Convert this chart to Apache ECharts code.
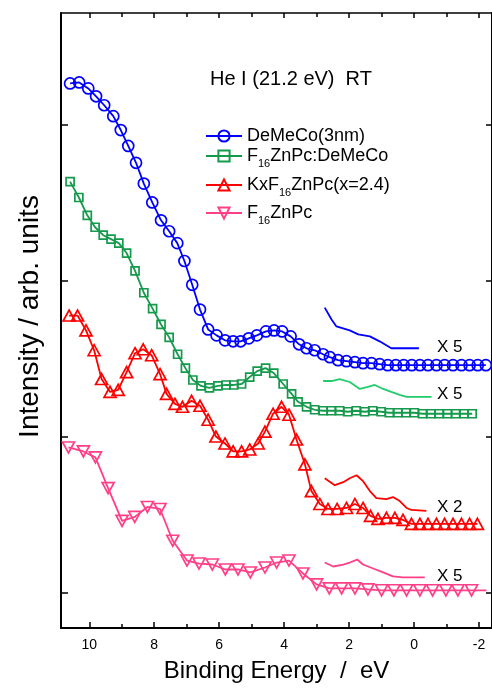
<!DOCTYPE html>
<html>
<head>
<meta charset="utf-8">
<script src="https://cdn.jsdelivr.net/npm/echarts@6/dist/echarts.min.js"></script>
<style>
  html, body { margin: 0; padding: 0; background: #fff; }
  #main { width: 492px; height: 688px; }
</style>
</head>
<body>
<div id="main"></div>
<script>
// datos: energia de enlace (eV) e intensidad (u. arb.)
var energiaDeMeCo = [10.59, 10.31, 10.03, 9.79, 9.54, 9.26, 9.03, 8.80, 8.56, 8.32, 8.06, 7.79, 7.54, 7.29, 7.07, 6.83, 6.59, 6.34, 6.08, 5.82, 5.57, 5.34, 5.09, 4.84, 4.56, 4.31, 4.06, 3.80, 3.54, 3.31, 3.06, 2.80, 2.59, 2.34, 2.08, 1.82, 1.57, 1.31, 1.06, 0.81, 0.56, 0.32, 0.07, -0.18, -0.43, -0.69, -0.94, -1.20, -1.46, -1.71, -1.96, -2.21];
var intensidadDeMeCo = [549, 550, 544, 536, 527, 516, 502, 486, 469, 448, 429, 411, 400, 388, 370, 346, 321, 301, 295, 290, 289, 289, 292, 295, 299, 300, 299, 294, 286, 282, 280, 276, 273, 270, 269, 268, 267, 267, 266, 265, 265, 265, 265, 265, 265, 265, 265, 265, 265, 265, 265, 265];

var energiaMezcla = [10.59, 10.32, 10.06, 9.82, 9.57, 9.33, 9.09, 8.85, 8.59, 8.32, 8.05, 7.79, 7.54, 7.28, 7.04, 6.81, 6.56, 6.30, 6.04, 5.79, 5.55, 5.31, 5.06, 4.83, 4.57, 4.32, 4.03, 3.77, 3.57, 3.31, 3.06, 2.80, 2.55, 2.29, 2.04, 1.78, 1.52, 1.27, 1.01, 0.76, 0.50, 0.25, -0.01, -0.26, -0.52, -0.77, -1.03, -1.28, -1.54, -1.79];
var intensidadMezcla = [450, 434, 416, 404, 396, 392, 388, 378, 360, 338, 322, 306, 293, 276, 262, 250, 244, 242, 244, 245, 245, 246, 253, 259, 262, 257, 246, 236, 228, 223, 220, 219, 219, 219, 218, 219, 218, 219, 218, 217, 217, 217, 217, 216, 216, 216, 216, 216, 216, 216];

var energiaPotasio = [10.62, 10.36, 10.10, 9.85, 9.62, 9.36, 9.11, 8.85, 8.59, 8.34, 8.08, 7.82, 7.62, 7.36, 7.13, 6.85, 6.59, 6.34, 6.10, 5.82, 5.57, 5.31, 5.06, 4.80, 4.59, 4.34, 4.08, 3.85, 3.62, 3.36, 3.16, 2.90, 2.65, 2.37, 2.08, 1.82, 1.57, 1.34, 1.11, 0.85, 0.59, 0.34, 0.08, -0.18, -0.43, -0.69, -0.94, -1.20, -1.46, -1.71, -1.95];
var intensidadPotasio = [315, 315, 300, 280, 251, 238, 240, 258, 277, 281, 275, 256, 236, 226, 223, 229, 224, 210, 193, 186, 178, 178, 180, 186, 198, 216, 223, 215, 190, 165, 138, 125, 120, 120, 121, 125, 121, 113, 110, 111, 111, 109, 105, 105, 105, 105, 105, 105, 105, 105, 105];

var energiaF16 = [10.64, 10.18, 9.81, 9.42, 8.99, 8.60, 8.21, 7.82, 7.43, 6.99, 6.62, 6.21, 5.81, 5.42, 5.04, 4.59, 4.23, 3.85, 3.42, 3.00, 2.61, 2.23, 1.82, 1.42, 1.00, 0.62, 0.23, -0.18, -0.57, -0.98, -1.35, -1.77, -2.23];
var intensidadF16 = [182, 178, 172, 141, 108, 112, 122, 120, 88, 68, 65, 64, 59, 59, 56, 61, 66, 68, 55, 44, 40, 40, 40, 39, 38, 38, 38, 38, 38, 38, 38, 38, 38];

// curvas ampliadas (X 5 / X 2) cerca del nivel de Fermi
var energiaDeMeCoX5 = [2.75, 2.54, 2.39, 1.98, 1.72, 1.36, 1.06, 0.70, -0.15];
var intensidadDeMeCoX5 = [323, 311, 304, 300, 296, 294, 289, 282, 282];
var energiaMezclaX5 = [2.80, 2.54, 2.29, 1.98, 1.67, 1.42, 1.21, 0.95, 0.70, 0.44, 0.23, -0.54];
var intensidadMezclaX5 = [249, 249, 251, 248, 241, 243, 245, 241, 238, 235, 233, 233];
var energiaPotasioX2 = [2.75, 2.44, 2.18, 1.98, 1.77, 1.57, 1.36, 1.16, 0.85, 0.65, 0.44, 0.23, 0.08, -0.38];
var intensidadPotasioX2 = [151, 144, 147, 151, 154, 148, 138, 131, 130, 132, 128, 121, 119, 118];
var energiaF16X5 = [2.75, 2.49, 2.18, 1.98, 1.75, 1.57, 1.26, 0.95, 0.65, 0.34, -0.33];
var intensidadF16X5 = [66, 62, 64, 66, 69, 64, 60, 56, 52, 51, 51];

// ticks
var ticksMayores = [10, 8, 6, 4, 2, 0, -2];
var ticksMenores = [9, 7, 5, 3, 1, -1];
var ticksY = [36, 193, 350, 507];

var nombres = ['DeMeCo(3nm)', 'F16ZnPc:DeMeCo', 'KxF16ZnPc(x=2.4)', 'F16ZnPc'];
var etiquetasRich = {
  'DeMeCo(3nm)': '{a|DeMeCo(3nm)}',
  'F16ZnPc:DeMeCo': '{a|F}{s|16}{a|ZnPc:DeMeCo}',
  'KxF16ZnPc(x=2.4)': '{a|KxF}{s|16}{a|ZnPc(x=2.4)}',
  'F16ZnPc': '{a|F}{s|16}{a|ZnPc}'
};

var fuente = "'Liberation Sans', Arial, sans-serif";

function juntar(xs, ys) {
  return xs.map(function (x, i) { return [x, ys[i]]; });
}

function serieMarcada(nombre, xs, ys, color, simbolo, tam, rot) {
  return {
    name: nombre,
    type: 'line',
    data: juntar(xs, ys),
    symbol: simbolo,
    symbolSize: tam,
    symbolRotate: rot || 0,
    showAllSymbol: true,
    lineStyle: { color: color, width: 1.8 },
    itemStyle: { color: 'rgba(0,0,0,0)', borderColor: color, borderWidth: 1.7 }
  };
}

function serieAmpliada(nombre, xs, ys, color) {
  return {
    name: nombre,
    type: 'line',
    data: juntar(xs, ys),
    showSymbol: false,
    lineStyle: { color: color, width: 1.8 },
    itemStyle: { color: color }
  };
}

function ejeX(pos, ticks, largo, conLinea, conLabels) {
  var eje = {
    type: 'value',
    position: pos,
    min: -2.4,
    max: 10.87,
    inverse: true,
    splitLine: { show: false },
    axisLine: { show: conLinea, onZero: false, lineStyle: { color: '#000', width: pos === 'bottom' ? 2 : 1.5 } },
    axisTick: { show: true, inside: true, length: largo, customValues: ticks, lineStyle: { color: '#000', width: 1.5 } },
    axisLabel: { show: conLabels }
  };
  if (conLabels) {
    eje.axisLabel = { show: true, customValues: ticks, color: '#000', fontSize: 14, fontFamily: fuente, margin: 10 };
    eje.name = 'Binding Energy  /  eV';
    eje.nameLocation = 'middle';
    eje.nameGap = 31;
    eje.nameTextStyle = { color: '#000', fontSize: 24, fontFamily: fuente };
  }
  return eje;
}

function ejeY(pos, largo) {
  var eje = {
    type: 'value',
    position: pos,
    min: 0,
    max: 620,
    splitLine: { show: false },
    axisLine: { show: true, onZero: false, lineStyle: { color: '#000', width: 2 } },
    axisTick: { show: true, inside: true, length: largo, customValues: ticksY, lineStyle: { color: '#000', width: 1.5 } },
    axisLabel: { show: false }
  };
  if (pos === 'left') {
    eje.name = 'Intensity / arb. units';
    eje.nameLocation = 'middle';
    eje.nameGap = 17;
    eje.nameTextStyle = { color: '#000', fontSize: 28, fontFamily: fuente, padding: [0, 0, 0, 8] };
  }
  return eje;
}

function leyenda(nombre, arriba) {
  return {
    data: [nombre],
    left: 205,
    top: arriba,
    padding: 0,
    itemWidth: 36,
    itemHeight: 14,
    itemGap: 5,
    selectedMode: false,
    formatter: function (n) { return etiquetasRich[n]; },
    textStyle: {
      color: '#000',
      fontFamily: fuente,
      fontSize: 18,
      rich: {
        a: { fontSize: 18, lineHeight: 26, fontFamily: fuente, color: '#000' },
        s: { fontSize: 11, lineHeight: 26, verticalAlign: 'bottom', fontFamily: fuente, color: '#000' }
      }
    }
  };
}

function textoFijo(texto, x, y, tam) {
  return {
    type: 'text',
    x: x,
    y: y,
    style: { text: texto, fill: '#000', font: tam + 'px ' + fuente, verticalAlign: 'middle' }
  };
}

function main() {
  var chartDom = document.getElementById('main');
  var myChart = echarts.init(chartDom);

  var azul = '#0000ff', verde = '#159a4c', verdeClaro = '#22cc6a', rojo = '#ff0000', rosa = '#ff4088';

  var serieRosa = serieMarcada(nombres[3], energiaF16, intensidadF16, rosa, 'triangle', [12, 11], 180);
  // el ultimo punto solo es linea
  serieRosa.data[serieRosa.data.length - 1] = { value: serieRosa.data[serieRosa.data.length - 1], symbol: 'none' };

  var option = {
    backgroundColor: '#ffffff',
    animation: false,
    grid: { left: 61, right: 0, top: 13, bottom: 55, containLabel: false },
    xAxis: [
      ejeX('bottom', ticksMayores, 6, true, true),
      ejeX('bottom', ticksMenores, 4, false, false),
      ejeX('top', ticksMayores, 5, true, false),
      ejeX('top', ticksMenores, 4, false, false)
    ],
    yAxis: [ejeY('left', 7), ejeY('right', 6)],
    legend: [
      leyenda(nombres[0], 127),
      leyenda(nombres[1], 147),
      leyenda(nombres[2], 176),
      leyenda(nombres[3], 204)
    ],
    series: [
      serieMarcada(nombres[0], energiaDeMeCo, intensidadDeMeCo, azul, 'circle', 11),
      serieMarcada(nombres[1], energiaMezcla, intensidadMezcla, verde, 'rect', 8),
      serieMarcada(nombres[2], energiaPotasio, intensidadPotasio, rojo, 'triangle', [12, 11]),
      serieRosa,
      serieAmpliada('DeMeCo X5', energiaDeMeCoX5, intensidadDeMeCoX5, azul),
      serieAmpliada('Mezcla X5', energiaMezclaX5, intensidadMezclaX5, verdeClaro),
      serieAmpliada('Potasio X2', energiaPotasioX2, intensidadPotasioX2, rojo),
      serieAmpliada('F16 X5', energiaF16X5, intensidadF16X5, rosa)
    ],
    graphic: [
      textoFijo('He I (21.2 eV)  RT', 210, 79, 20),
      textoFijo('X 5', 437, 347, 17),
      textoFijo('X 5', 437, 394, 17),
      textoFijo('X 2', 437, 507, 17),
      textoFijo('X 5', 437, 576, 17)
    ]
  };

  myChart.setOption(option);
}

main();
</script>
</body>
</html>
